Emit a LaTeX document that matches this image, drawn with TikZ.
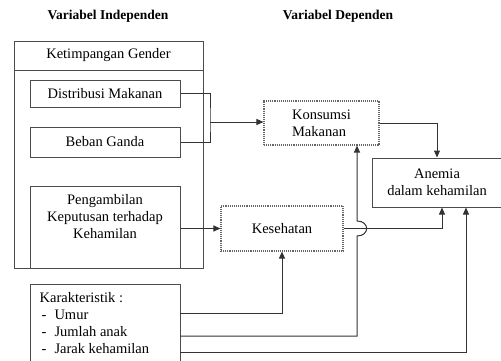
\documentclass[tikz,border=0pt]{standalone}
\usepackage{fontspec}
\setmainfont{Liberation Serif}
\usetikzlibrary{arrows.meta}

\begin{document}
\begin{tikzpicture}[x=1pt, y=-1pt,
    every node/.style={font=\fontsize{14.5}{17}\selectfont, inner sep=0pt},
    box/.style={draw=black!70, line width=1pt},
    dotbox/.style={draw=black!60, line width=1.1pt, densely dotted},
    wire/.style={draw=black!80, line width=1pt},
    arr/.style={wire, -{Triangle[length=7pt,width=6pt]}},
    heading/.style={font=\fontsize{13.5}{16}\selectfont\bfseries}]
    \clip (0,0) rectangle (501,360);

    \node[heading] (indep) at (108,16) {Variabel Independen};
    \node[heading] (dep) at (338,16) {Variabel Dependen};

    \node[box, minimum width=189, minimum height=227] (frame) at (108.5,154.5) {};
    \node[box, minimum width=189, minimum height=29] (gender) at (108.5,55.5) {Ketimpangan Gender};
    \node[box, minimum width=150, minimum height=27] (dist) at (105,93.5) {Distribusi Makanan};
    \node[box, minimum width=150, minimum height=30] (beban) at (105,142) {Beban Ganda};
    \node[box, minimum width=150, minimum height=82] (peng) at (105,227) {};
    \node[anchor=north, align=center] (pengtext) at ([yshift=-9pt]peng.north)
      {Pengambilan\\Keputusan terhadap\\Kehamilan};

    \node[box, minimum width=150, minimum height=90] (kar) at (105,329) {};
    \node[anchor=north west, align=left] (kartext) at ([xshift=10pt,yshift=-9pt]kar.north west)
      {Karakteristik :\\\hspace*{2pt}-\hspace{8pt}Umur\\\hspace*{2pt}-\hspace{8pt}Jumlah anak\\\hspace*{2pt}-\hspace{8pt}Jarak kehamilan};

    \node[dotbox, minimum width=115, minimum height=44, align=left] (kons) at (321.5,123) {Konsumsi\\Makanan};
    \node[dotbox, minimum width=122, minimum height=45] (kes) at (282,228.5) {Kesehatan};
    \node[box, minimum width=130, minimum height=49, align=center] (anemia) at (437,182.5) {Anemia\\dalam kehamilan};

    \coordinate (join) at (210,122);
    \coordinate (k1) at (180,313);
    \coordinate (k2) at (180,336);
    \coordinate (k3) at (180,352);
    \coordinate (hopB) at (357,236);
    \coordinate (hopT) at (357,221);

    \draw[wire] (dist.east) -| (join) |- (beban.east);
    \draw[arr] (join) -- (join -| kons.west);
    \draw[arr] (kons.east) -| (anemia.north);
    \draw[arr] (kes.west -| peng.east) -- (kes.west);
    \draw[arr] (kes.east) -| ([xshift=5pt]anemia.south);
    \draw[arr] (k1) -| (kes.south);
    \draw[arr] (k2) -| (hopB) to[out=0, in=0, looseness=2.2] (hopT) -- (hopT |- kons.south);
    \draw[arr] (k3) -| ([xshift=29pt]anemia.south);
\end{tikzpicture}
\end{document}
